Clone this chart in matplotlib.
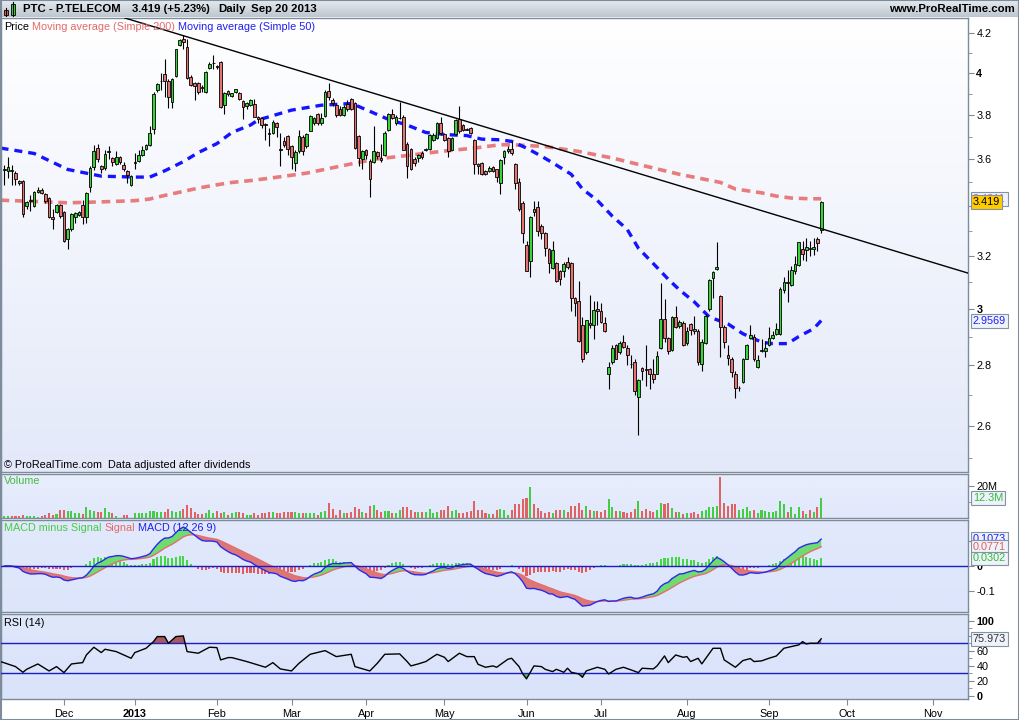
import numpy as np
import pandas as pd
import matplotlib
matplotlib.use("Agg")
import matplotlib.pyplot as plt
from matplotlib.collections import LineCollection
from matplotlib.patches import Rectangle
from matplotlib.lines import Line2D
from matplotlib.transforms import blended_transform_factory
from matplotlib.ticker import NullFormatter
from matplotlib.colors import to_rgb

plt.rcParams['font.family'] = ['Liberation Sans', 'DejaVu Sans']

W, H = 1020, 720

# daily bars from 2012-11-09 to 2013-09-20 (Euronext Lisbon trading days)
holidays = ['2012-12-25', '2012-12-26', '2013-01-01', '2013-03-29', '2013-04-01', '2013-05-01']

opens = [
    3.555, 3.55, 3.555, 3.542, 3.508, 3.508, 3.40, 3.42, 3.40, 3.459,
    3.47, 3.45, 3.435, 3.357, 3.376, 3.407, 3.377, 3.268, 3.308, 3.357,
    3.365, 3.407, 3.357, 3.48, 3.567, 3.65, 3.57, 3.563, 3.632, 3.604,
    3.58, 3.611, 3.574, 3.549, 3.49, 3.585, 3.595, 3.62, 3.646, 3.665,
    3.737, 3.916, 3.96, 3.995, 3.963, 3.86, 3.985, 4.14, 4.168, 4.128,
    3.98, 3.95, 3.95, 3.93, 3.91, 4.025, 4.048, 4.035, 4.053, 3.845,
    3.912, 3.89, 3.909, 3.905, 3.865, 3.842, 3.848, 3.853, 3.79, 3.785,
    3.757, 3.717, 3.72, 3.765, 3.645, 3.683, 3.706, 3.66, 3.583, 3.635,
    3.70, 3.658, 3.729, 3.762, 3.804, 3.762, 3.795, 3.913, 3.87, 3.846,
    3.826, 3.80, 3.853, 3.873, 3.855, 3.702, 3.60, 3.64, 3.593, 3.59,
    3.632, 3.607, 3.62, 3.73, 3.807, 3.762, 3.785, 3.792, 3.67, 3.646,
    3.60, 3.607, 3.63, 3.643, 3.646, 3.687, 3.695, 3.762, 3.714, 3.695,
    3.643, 3.714, 3.78, 3.754, 3.735, 3.74, 3.687, 3.58, 3.585, 3.55,
    3.55, 3.567, 3.556, 3.497, 3.61, 3.635, 3.645, 3.581, 3.50, 3.413,
    3.242, 3.18, 3.39, 3.397, 3.32, 3.29, 3.226, 3.152, 3.172, 3.142,
    3.14, 3.177, 3.172, 3.04, 3.03, 2.94, 2.846, 2.95, 2.94, 3.0,
    2.99, 2.95, 2.77, 2.81, 2.87, 2.846, 2.88, 2.858, 2.805, 2.811,
    2.695, 2.79, 2.785, 2.786, 2.772, 2.772, 2.86, 2.964, 2.893, 2.852,
    2.97, 2.937, 2.95, 2.876, 2.943, 2.928, 2.92, 2.805, 2.878, 3.0,
    3.113, 3.148, 3.048, 2.933, 2.835, 2.823, 2.772, 2.722, 2.744, 2.823,
    2.893, 2.90, 2.793, 2.85, 2.85, 2.87, 2.893, 2.91, 2.91, 3.068,
    3.10, 3.09, 3.141, 3.165, 3.226, 3.224, 3.23, 3.226, 3.265, 3.302,
]
highs = [
    3.575, 3.61, 3.575, 3.55, 3.51, 3.51, 3.42, 3.445, 3.465, 3.48,
    3.475, 3.455, 3.44, 3.387, 3.41, 3.41, 3.38, 3.31, 3.37, 3.375,
    3.38, 3.425, 3.46, 3.57, 3.665, 3.67, 3.575, 3.64, 3.66, 3.61,
    3.635, 3.615, 3.59, 3.555, 3.53, 3.63, 3.64, 3.66, 3.67, 3.75,
    3.91, 3.95, 4.0, 4.07, 3.97, 3.975, 4.12, 4.17, 4.19, 4.17,
    3.99, 3.955, 3.955, 3.94, 4.01, 4.055, 4.09, 4.04, 4.06, 3.91,
    3.92, 3.905, 3.925, 3.91, 3.87, 3.86, 3.875, 3.875, 3.795, 3.79,
    3.765, 3.74, 3.775, 3.77, 3.717, 3.70, 3.71, 3.665, 3.64, 3.73,
    3.71, 3.72, 3.80, 3.79, 3.81, 3.81, 3.92, 3.95, 3.88, 3.85,
    3.84, 3.845, 3.87, 3.88, 3.86, 3.71, 3.64, 3.645, 3.60, 3.75,
    3.635, 3.67, 3.725, 3.81, 3.83, 3.80, 3.863, 3.80, 3.675, 3.65,
    3.61, 3.625, 3.635, 3.65, 3.715, 3.72, 3.77, 3.79, 3.72, 3.70,
    3.70, 3.78, 3.84, 3.76, 3.74, 3.745, 3.69, 3.585, 3.59, 3.555,
    3.57, 3.57, 3.56, 3.60, 3.64, 3.66, 3.68, 3.585, 3.52, 3.42,
    3.26, 3.36, 3.42, 3.42, 3.325, 3.295, 3.23, 3.26, 3.175, 3.145,
    3.175, 3.195, 3.175, 3.045, 3.105, 2.97, 2.96, 3.05, 3.03, 3.03,
    3.02, 2.97, 2.81, 2.87, 2.875, 2.885, 2.905, 2.87, 2.834, 2.82,
    2.755, 2.795, 2.87, 2.79, 2.82, 2.85, 3.095, 3.035, 2.90, 2.975,
    3.01, 2.96, 2.955, 2.935, 2.95, 2.975, 2.925, 2.89, 2.98, 3.11,
    3.14, 3.255, 3.05, 2.94, 2.87, 2.83, 2.78, 2.73, 2.825, 2.875,
    2.94, 2.91, 2.835, 2.89, 2.885, 2.935, 2.92, 2.95, 3.08, 3.12,
    3.145, 3.16, 3.2, 3.255, 3.26, 3.27, 3.26, 3.27, 3.275, 3.422,
]
lows = [
    3.49, 3.52, 3.49, 3.49, 3.49, 3.355, 3.39, 3.38, 3.395, 3.455,
    3.45, 3.415, 3.35, 3.305, 3.37, 3.35, 3.255, 3.225, 3.30, 3.33,
    3.36, 3.325, 3.33, 3.46, 3.555, 3.59, 3.54, 3.555, 3.60, 3.57,
    3.575, 3.58, 3.55, 3.497, 3.485, 3.56, 3.59, 3.615, 3.64, 3.66,
    3.715, 3.91, 3.92, 3.886, 3.835, 3.835, 3.98, 4.135, 4.12, 3.97,
    3.935, 3.87, 3.90, 3.91, 3.905, 4.02, 4.02, 4.02, 3.835, 3.805,
    3.89, 3.885, 3.905, 3.87, 3.78, 3.83, 3.84, 3.79, 3.765, 3.74,
    3.687, 3.66, 3.715, 3.70, 3.57, 3.655, 3.62, 3.56, 3.55, 3.63,
    3.62, 3.65, 3.725, 3.755, 3.755, 3.755, 3.79, 3.87, 3.84, 3.79,
    3.795, 3.795, 3.82, 3.825, 3.645, 3.57, 3.56, 3.60, 3.44, 3.585,
    3.60, 3.59, 3.615, 3.725, 3.78, 3.755, 3.78, 3.64, 3.52, 3.555,
    3.57, 3.59, 3.60, 3.635, 3.64, 3.68, 3.69, 3.71, 3.68, 3.61,
    3.64, 3.71, 3.72, 3.725, 3.73, 3.715, 3.535, 3.535, 3.53, 3.53,
    3.545, 3.545, 3.50, 3.45, 3.58, 3.63, 3.62, 3.473, 3.38, 3.25,
    3.14, 3.12, 3.36, 3.28, 3.265, 3.20, 3.135, 3.15, 3.10, 3.09,
    3.12, 3.15, 2.99, 2.975, 2.88, 2.81, 2.84, 2.93, 2.89, 2.94,
    2.95, 2.915, 2.72, 2.805, 2.82, 2.84, 2.86, 2.80, 2.79, 2.70,
    2.57, 2.75, 2.73, 2.72, 2.74, 2.77, 2.855, 2.88, 2.84, 2.85,
    2.93, 2.93, 2.865, 2.87, 2.905, 2.91, 2.80, 2.78, 2.875, 2.99,
    3.04, 3.145, 2.83, 2.86, 2.80, 2.76, 2.69, 2.715, 2.74, 2.82,
    2.89, 2.815, 2.79, 2.845, 2.83, 2.865, 2.89, 2.905, 2.905, 3.06,
    3.025, 3.085, 3.13, 3.16, 3.185, 3.18, 3.20, 3.205, 3.22, 3.29,
]
closes = [
    3.56, 3.565, 3.55, 3.513, 3.498, 3.368, 3.418, 3.425, 3.46, 3.47,
    3.456, 3.42, 3.355, 3.348, 3.407, 3.359, 3.259, 3.305, 3.366, 3.37,
    3.375, 3.357, 3.456, 3.563, 3.636, 3.60, 3.56, 3.624, 3.638, 3.588,
    3.611, 3.588, 3.556, 3.53, 3.527, 3.59, 3.62, 3.643, 3.662, 3.72,
    3.901, 3.945, 3.963, 3.963, 3.883, 3.97, 4.118, 4.164, 4.157, 3.977,
    3.941, 3.937, 3.91, 3.928, 4.005, 4.045, 4.05, 4.03, 3.839, 3.905,
    3.898, 3.902, 3.922, 3.873, 3.836, 3.857, 3.87, 3.792, 3.78, 3.754,
    3.752, 3.715, 3.77, 3.747, 3.643, 3.665, 3.646, 3.61, 3.632, 3.702,
    3.635, 3.713, 3.795, 3.785, 3.762, 3.785, 3.91, 3.885, 3.855, 3.80,
    3.80, 3.838, 3.826, 3.83, 3.65, 3.607, 3.636, 3.62, 3.514, 3.638,
    3.615, 3.596, 3.72, 3.805, 3.785, 3.79, 3.785, 3.643, 3.571, 3.559,
    3.585, 3.62, 3.612, 3.645, 3.71, 3.71, 3.762, 3.717, 3.687, 3.636,
    3.695, 3.777, 3.725, 3.732, 3.732, 3.72, 3.578, 3.573, 3.535, 3.535,
    3.563, 3.549, 3.523, 3.596, 3.635, 3.645, 3.627, 3.496, 3.39, 3.29,
    3.143, 3.356, 3.376, 3.30, 3.29, 3.229, 3.172, 3.222, 3.105, 3.111,
    3.17, 3.158, 3.04, 3.02, 2.885, 2.823, 2.958, 2.94, 2.995, 2.99,
    2.952, 2.92, 2.795, 2.86, 2.823, 2.878, 2.864, 2.835, 2.803, 2.712,
    2.75, 2.78, 2.784, 2.772, 2.755, 2.832, 2.964, 2.893, 2.85, 2.97,
    2.934, 2.952, 2.87, 2.92, 2.922, 2.918, 2.81, 2.88, 2.972, 3.107,
    3.136, 3.158, 2.933, 2.88, 2.826, 2.778, 2.722, 2.724, 2.82, 2.87,
    2.907, 2.82, 2.818, 2.852, 2.858, 2.893, 2.907, 2.928, 3.074, 3.10,
    3.095, 3.145, 3.17, 3.253, 3.209, 3.233, 3.225, 3.233, 3.25, 3.419,
]
# volume in millions of shares
volumes = [
    1.5, 1.5, 1.5, 1.0, 1.0, 2.1, 1.5, 1.25, 1.0, 0.8,
    1.5, 1.9, 3.1, 2.1, 2.5, 5.0, 5.0, 4.2, 4.2, 3.1,
    3.1, 2.5, 7.1, 5.0, 4.2, 4.0, 4.0, 6.0, 4.0, 3.1,
    1.5, 0.3, 2.1, 2.1, 0.3, 3.1, 3.1, 3.1, 3.1, 4.6,
    4.6, 4.0, 4.0, 4.0, 5.6, 4.6, 4.0, 4.6, 5.6, 8.3,
    6.25, 4.0, 2.5, 2.5, 3.1, 5.0, 3.1, 4.2, 3.1, 4.0,
    2.1, 3.1, 4.0, 4.0, 3.1, 2.1, 2.1, 3.1, 2.1, 3.1,
    3.1, 4.0, 4.0, 3.1, 3.1, 4.0, 4.0, 4.0, 4.0, 3.1,
    3.1, 3.1, 3.1, 3.1, 2.1, 3.5, 4.6, 9.2, 5.6, 2.1,
    5.0, 3.1, 3.1, 4.0, 6.5, 5.6, 4.0, 3.1, 7.3, 8.3,
    5.0, 3.5, 4.2, 4.2, 3.1, 3.1, 4.8, 6.5, 6.5, 4.8,
    3.75, 3.5, 3.5, 3.5, 5.8, 3.1, 3.5, 5.2, 4.8, 7.3,
    4.2, 4.8, 3.1, 3.1, 3.75, 4.2, 10.4, 4.8, 4.8, 3.1,
    2.3, 2.7, 4.8, 5.8, 4.8, 1.7, 5.2, 8.5, 8.5, 11.5,
    12.3, 19.0, 8.5, 6.25, 4.2, 3.1, 3.75, 3.1, 4.8, 4.8,
    4.8, 3.75, 7.3, 7.3, 9.4, 5.2, 7.3, 4.8, 4.2, 4.2,
    3.75, 4.8, 11.5, 6.5, 4.2, 4.2, 3.5, 3.1, 3.5, 5.8,
    10.4, 4.4, 5.8, 4.2, 3.5, 4.8, 9.4, 8.5, 9.0, 6.25,
    3.5, 3.5, 2.7, 3.1, 3.1, 3.5, 2.7, 4.2, 4.8, 6.5,
    6.5, 7.3, 25.6, 9.4, 7.3, 8.5, 8.5, 4.8, 5.6, 6.5,
    4.2, 5.2, 3.1, 5.2, 4.2, 3.5, 3.5, 4.2, 10.4, 8.5,
    3.5, 6.5, 2.7, 6.7, 4.2, 2.7, 5.2, 3.5, 6.5, 12.3,
]

# moving averages (bar index, value)
ma50_idx = [-1, 8, 17, 26, 35, 39, 43, 48, 52, 57, 61, 66, 68, 77, 85, 93, 95, 99,
            103, 108, 113, 119, 124, 128, 133, 136, 140, 144, 147, 152, 155, 159,
            163, 167, 170, 174, 178, 181, 185, 189, 194, 198, 203, 206, 210, 213, 217, 219]
ma50_val = [3.65, 3.626, 3.556, 3.527, 3.523, 3.523, 3.55, 3.59, 3.63, 3.67, 3.72, 3.754,
            3.777, 3.823, 3.846, 3.854, 3.84, 3.81, 3.78, 3.754, 3.72, 3.71, 3.706, 3.69,
            3.687, 3.68, 3.65, 3.614, 3.585, 3.535, 3.472, 3.424, 3.359, 3.305, 3.23,
            3.17, 3.11, 3.07, 3.025, 2.97, 2.945, 2.91, 2.88, 2.875, 2.875, 2.90, 2.928, 2.957]
ma200_idx = [-1, 8, 17, 26, 35, 39, 43, 48, 52, 57, 61, 66, 72, 81, 90, 99, 108, 117,
             126, 133, 136, 145, 154, 163, 172, 181, 192, 196, 203, 207, 211, 216, 219]
ma200_val = [3.425, 3.42, 3.414, 3.418, 3.423, 3.43, 3.445, 3.462, 3.476, 3.49, 3.50,
             3.508, 3.52, 3.54, 3.57, 3.60, 3.617, 3.635, 3.65, 3.665, 3.665, 3.657,
             3.635, 3.606, 3.57, 3.535, 3.50, 3.472, 3.456, 3.442, 3.434, 3.431, 3.431]

# RSI(14)
rsi_idx = [-1, 3, 5, 6, 9, 12, 14, 16, 18, 21, 22, 24, 26, 27, 30, 34, 35, 38, 40, 41,
           43, 44, 46, 48, 49, 52, 55, 57, 58, 60, 61, 65, 68, 70, 72, 74, 77, 79, 82,
           86, 89, 93, 94, 98, 100, 102, 106, 108, 109, 111, 113, 115, 116, 118, 119,
           122, 124, 126, 127, 129, 131, 132, 135, 136, 138, 139, 140, 142, 144, 145,
           147, 148, 150, 151, 152, 154, 155, 156, 159, 161, 162, 164, 166, 168, 170,
           171, 174, 175, 177, 178, 180, 182, 183, 184, 186, 187, 190, 192, 193, 196,
           198, 200, 201, 203, 205, 207, 209, 211, 213, 214, 215, 216, 218, 219]
rsi_val = [45.6, 38.9, 31.3, 35.3, 42.4, 33.1, 38.9, 30.9, 42.4, 44.2, 54.4, 64.7, 57.6,
           62.0, 58.9, 50.0, 57.6, 63.3, 72.2, 78.9, 78.9, 70.0, 78.9, 79.8, 58.9, 56.7,
           64.7, 64.2, 47.8, 50.9, 50.9, 45.6, 41.1, 38.0, 44.2, 35.8, 33.1, 43.3, 55.3,
           60.2, 52.2, 55.3, 38.9, 33.1, 43.3, 55.3, 55.8, 45.6, 39.8, 42.5, 45.6, 52.2,
           55.3, 51.3, 45.6, 56.7, 52.2, 52.2, 42.0, 38.0, 39.8, 38.0, 48.7, 50.0, 38.9,
           29.1, 22.5, 39.8, 38.9, 35.3, 32.2, 35.3, 31.3, 36.7, 31.3, 29.1, 24.7, 33.1,
           38.0, 35.3, 29.1, 35.3, 38.0, 34.5, 30.9, 36.7, 35.8, 39.8, 53.1, 44.2, 54.4,
           51.3, 52.2, 45.6, 50.0, 42.5, 63.3, 63.3, 47.8, 38.0, 46.9, 49.6, 45.6, 46.5,
           50.0, 53.1, 63.3, 65.6, 67.8, 72.2, 69.1, 70.0, 70.0, 75.97]

# hand-drawn resistance line, two anchor points (bar index, price)
trend_idx = [40, 219]
trend_val = [4.233, 3.308]

EDGE = '#7d8c9b'
GREEN = '#3ad43a'
RED = '#e47474'
BLUE = '#1f1fee'
XMIN, XMAX = -0.885, 258.36

o = np.array(opens); h = np.array(highs); l = np.array(lows); c = np.array(closes)
v = np.array(volumes)
n = len(c)
x = np.arange(n)
up = c >= o

days = pd.bdate_range('2012-11-09', '2013-11-29')
days = days[~days.isin(pd.to_datetime(holidays))]
month_pos, month_lab = [], []
for i in range(1, len(days)):
    if days[i].month != days[i - 1].month:
        month_pos.append(i)
        month_lab.append('2013' if days[i].month == 1 else days[i].strftime('%b'))

# indicators
cs = pd.Series(c)
macd = cs.ewm(span=12, adjust=False).mean() - cs.ewm(span=26, adjust=False).mean()
signal = macd.ewm(span=9, adjust=False).mean()
hist = (macd - signal).values
macd = macd.values
signal = signal.values

fig = plt.figure(figsize=(W / 100, H / 100), dpi=100)
fig.patch.set_facecolor('white')


def rect(x0, y0, x1, y1):
    return [x0 / W, 1 - y1 / H, (x1 - x0) / W, (y1 - y0) / H]


def gradient(r, top, bottom):
    bg = fig.add_axes(r, zorder=0)
    c0, c1 = np.array(to_rgb(top)), np.array(to_rgb(bottom))
    t = np.linspace(0, 1, 128)[:, None, None]
    bg.imshow(c0 * (1 - t) + c1 * t, aspect='auto', extent=[0, 1, 0, 1])
    bg.set_axis_off()
    return bg


def panel(y0, y1, top, bottom):
    r = rect(1, y0, 968, y1)
    gradient(r, top, bottom)
    ax = fig.add_axes(r, zorder=1)
    ax.patch.set_alpha(0)
    for s in ax.spines.values():
        s.set_color(EDGE)
        s.set_linewidth(1)
    ax.set_xlim(XMIN, XMAX)
    ax.yaxis.tick_right()
    ax.tick_params(axis='y', which='both', direction='out', color=EDGE,
                   labelcolor='black', labelsize=7.8, pad=2)
    ax.tick_params(axis='y', which='major', length=4)
    ax.tick_params(axis='y', which='minor', length=3)
    ax.tick_params(axis='x', which='both', bottom=False, labelbottom=False)
    return ax


def bold_labels(ax, names):
    for t in ax.get_yticklabels():
        if t.get_text() in names:
            t.set_fontweight('bold')


def value_box(ax, y, s, color, face):
    tr = blended_transform_factory(ax.transAxes, ax.transData)
    ax.text(1 + 5 / 967, y, s, transform=tr, ha='left', va='center', fontsize=7.8,
            color=color, clip_on=False, zorder=10,
            bbox=dict(boxstyle='square,pad=0.18', fc=face, ec='#8393a3', lw=0.8))


def ftext(xp, yp, s, **kw):
    return fig.text(xp / W, 1 - yp / H, s, va='center', ha=kw.pop('ha', 'left'), **kw)


def chain(xp, yp, parts, size=7.8):
    rend = fig.canvas.get_renderer()
    for s, col in parts:
        t = ftext(xp, yp, s, color=col, fontsize=size)
        xp = t.get_window_extent(renderer=rend).x1 + 3


# title bar
gradient(rect(0, 0, W, 17), '#e6eaee', '#bcc6d0')
ftext(23, 9, 'PTC - P.TELECOM', fontsize=8.2, weight='bold')
ftext(132, 9, '3.419 (+5.23%)', fontsize=8.2, weight='bold')
ftext(218, 9, 'Daily', fontsize=8.2, weight='bold')
ftext(251, 9, 'Sep 20 2013', fontsize=8.2, weight='bold')
ftext(1015, 9, 'www.ProRealTime.com', fontsize=8.2, weight='bold', ha='right')
for (bx, by0, by1, wy0, wy1, col) in [(4.5, 10, 15, 8, 16, '#e06060'), (11.5, 4, 15, 2, 16, GREEN)]:
    fig.add_artist(Line2D([(bx + 2) / W] * 2, [1 - wy1 / H, 1 - wy0 / H], color='black', lw=0.8))
    fig.add_artist(Rectangle((bx / W, 1 - by1 / H), 4 / W, (by1 - by0) / H, fc=col, ec='black', lw=0.6))

# price panel (the 3.4 label sits under the last-price box, so it stays blank)
ax1 = panel(18, 472, '#ffffff', '#e3e9f9')
ax1.set_yscale('log')
ax1.set_ylim(2.458, 4.278)
ax1.set_yticks([2.6, 2.8, 3.0, 3.2, 3.4, 3.6, 3.8, 4.0, 4.2])
ax1.set_yticklabels(['2.6', '2.8', '3', '3.2', '', '3.6', '3.8', '4', '4.2'])
ax1.set_yticks([2.5, 2.7, 2.9, 3.1, 3.3, 3.5, 3.7, 3.9, 4.1], minor=True)
ax1.yaxis.set_minor_formatter(NullFormatter())
bold_labels(ax1, ['3', '4'])

ax1.plot(ma200_idx, ma200_val, color='#e87c7c', lw=2.6, dashes=(2.4, 1.6), zorder=2)
ax1.plot(ma50_idx, ma50_val, color='#1414ff', lw=2.4, dashes=(2.4, 1.8), zorder=2)
ax1.add_collection(LineCollection([[(i, l[i]), (i, h[i])] for i in range(n)],
                                  colors='black', linewidths=0.8, zorder=3))
body_lo = np.minimum(o, c)
body_h = np.maximum(np.abs(c - o), 0.003)
ax1.bar(x, body_h, bottom=body_lo, width=0.72, color=np.where(up, GREEN, RED),
        edgecolor='black', linewidth=0.6, zorder=4)
ax1.axline((trend_idx[0], trend_val[0]), (trend_idx[1], trend_val[1]), color='black', lw=1, zorder=5)
ax1.set_xlim(XMIN, XMAX)

value_box(ax1, ma200_val[-1], '3.4311', '#e06060', '#eef2fb')
value_box(ax1, closes[-1], '3.419', 'black', '#ffcc00')
value_box(ax1, ma50_val[-1], '2.9569', BLUE, '#eef2fb')

chain(4, 27, [('Price', 'black'), ('Moving average (Simple 200)', '#e26a6a'),
              ('Moving average (Simple 50)', BLUE)])
ftext(4, 465, '\u00a9 ProRealTime.com  Data adjusted after dividends', fontsize=7.8)

# volume panel
ax2 = panel(474, 518, '#e8eefb', '#e1e8fb')
ax2.bar(x, v, width=0.55, color=np.where(up, '#44cc44', '#e06262'), zorder=3)
ax2.set_ylim(0, 27.2)
ax2.set_yticks([20])
ax2.set_yticklabels(['20M'])
ax2.set_yticks([10], minor=True)
value_box(ax2, 12.3, '12.3M', '#33bb33', '#eef2fb')
ftext(4, 481, 'Volume', fontsize=7.8, color='#44bb44')

# MACD panel
ax3 = panel(520, 612, '#e2e9fb', '#dce5fb')
ax3.bar(x, hist, width=0.55, color=np.where(hist >= 0, '#44d844', '#e45a5a'), zorder=2)
ax3.fill_between(x, macd, signal, where=macd >= signal, interpolate=True,
                 color='#6fdc6f', lw=0, zorder=3)
ax3.fill_between(x, macd, signal, where=macd < signal, interpolate=True,
                 color='#dd7676', lw=0, zorder=3)
ax3.plot(x, signal, color='#e27070', lw=1, zorder=4)
ax3.plot(x, macd, color='#2a2aee', lw=1, zorder=5)
ax3.axhline(0, color='#1c1cc8', lw=1, zorder=6)
ax3.set_ylim(-0.184, 0.184)
ax3.set_yticks([-0.1, 0, 0.1])
ax3.set_yticklabels(['-0.1', '0', ''])
bold_labels(ax3, ['0'])
value_box(ax3, 0.1073, '0.1073', BLUE, '#eef2fb')
value_box(ax3, 0.0771, '0.0771', '#e06060', '#eef2fb')
value_box(ax3, 0.0302, '0.0302', '#33bb33', '#eef2fb')
chain(4, 528, [('MACD minus Signal', '#44cc44'), ('Signal', '#e26a6a'), ('MACD (12 26 9)', BLUE)])

# RSI panel
ax4 = panel(614, 699, '#dfe7fb', '#d9e3fa')
ri = np.array(rsi_idx, dtype=float)
rv = np.array(rsi_val)
ax4.fill_between(ri, rv, 70, where=rv >= 70, interpolate=True, color='#a85a5a', lw=0, zorder=2)
ax4.fill_between(ri, rv, 30, where=rv <= 30, interpolate=True, color='#5fae5f', lw=0, zorder=2)
ax4.axhline(70, color='#1c1cc8', lw=1, zorder=3)
ax4.axhline(30, color='#1c1cc8', lw=1, zorder=3)
ax4.plot(ri, rv, color='black', lw=1, zorder=4)
ax4.set_ylim(-4.3, 109)
ax4.set_yticks([0, 20, 40, 60, 80, 100])
ax4.set_yticklabels(['0', '20', '40', '60', '', '100'])
ax4.set_yticks([10, 30, 50, 70, 90], minor=True)
bold_labels(ax4, ['0', '100'])
value_box(ax4, rsi_val[-1], '75.973', '#333333', '#eef2fb')
ftext(4, 623, 'RSI (14)', fontsize=7.8)

ax4.set_xticks(month_pos)
ax4.set_xticklabels(month_lab)
ax4.tick_params(axis='x', which='major', bottom=True, labelbottom=True, direction='out',
                length=4, color=EDGE, labelsize=7.8, pad=3)
for t in ax4.get_xticklabels():
    if t.get_text() == '2013':
        t.set_fontweight('bold')

fig.add_artist(Rectangle((0.0005, 0.0005), 0.999, 0.999, transform=fig.transFigure,
                         fill=False, ec=EDGE, lw=1.5))

fig.savefig('out.png', dpi=100, facecolor=fig.get_facecolor())
